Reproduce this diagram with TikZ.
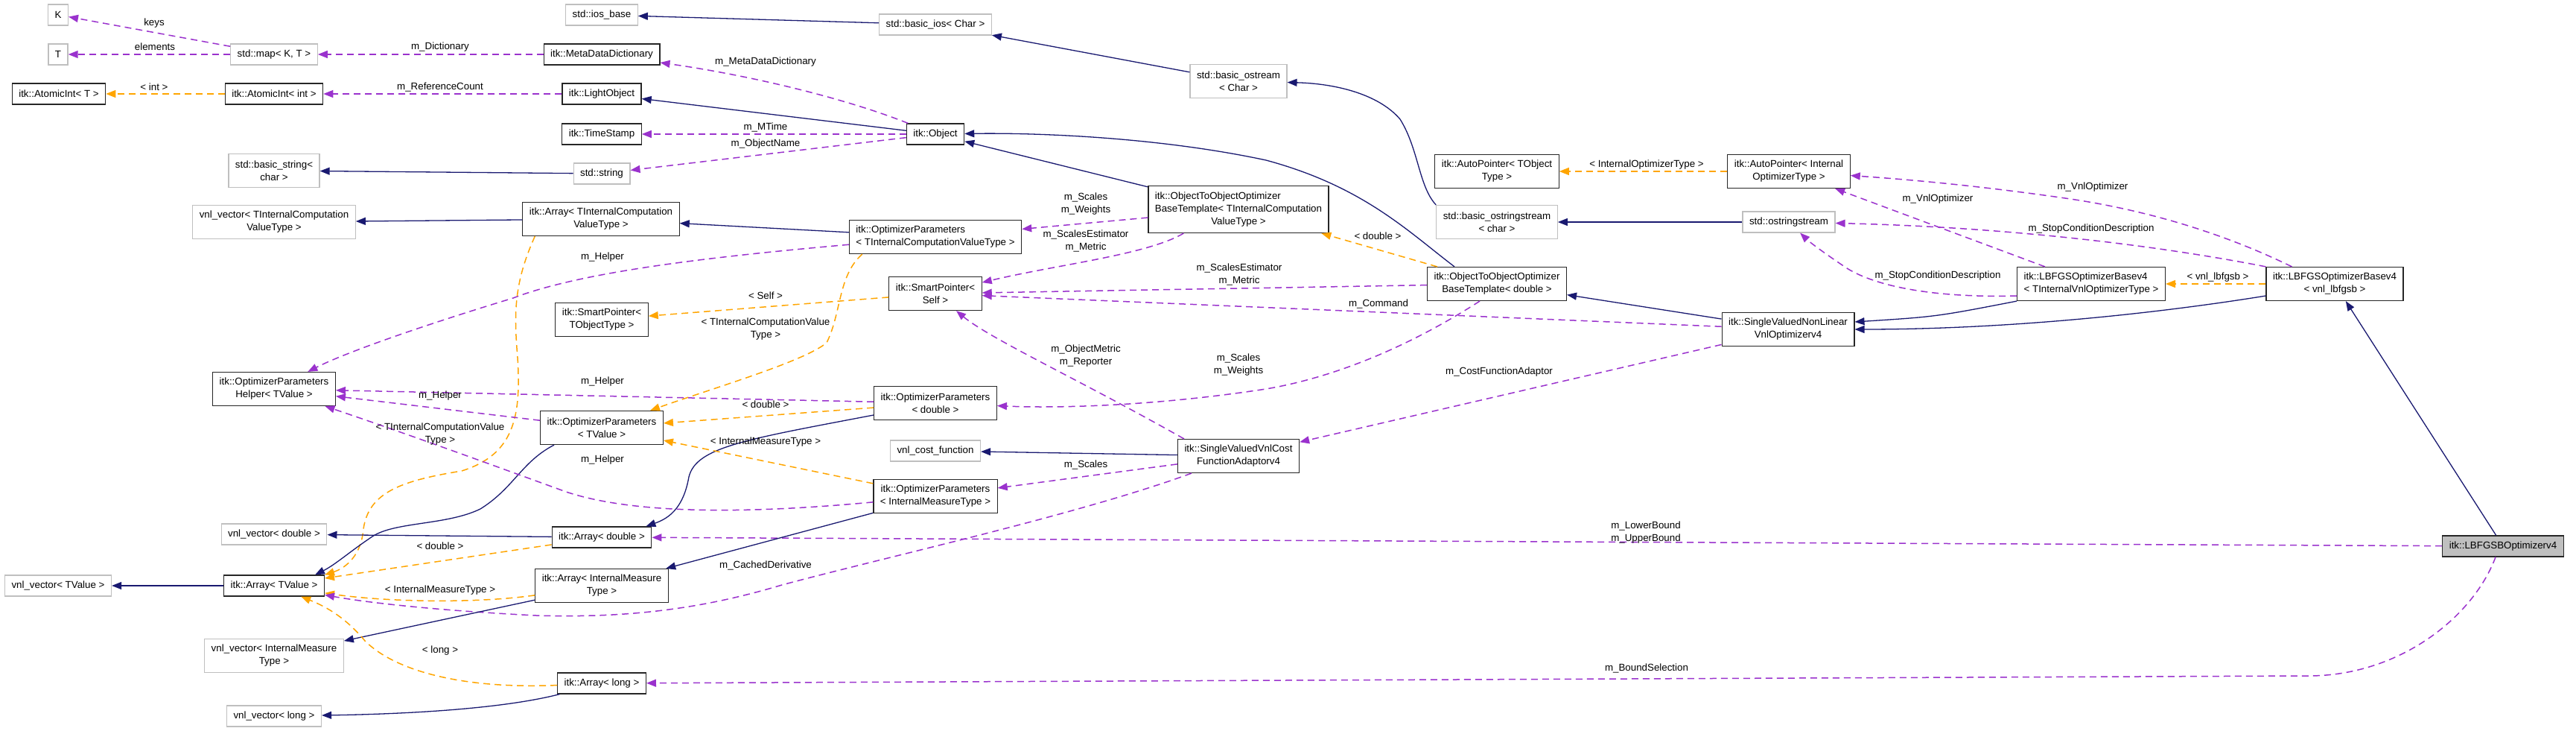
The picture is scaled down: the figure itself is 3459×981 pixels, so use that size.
\documentclass[tikz,border=0pt]{standalone}
\usepackage{fontspec}
\setmainfont{Liberation Sans}
\usetikzlibrary{arrows.meta}
\definecolor{edgeblue}{HTML}{191970}
\definecolor{edgepurple}{HTML}{9A32CD}
\definecolor{edgeorange}{HTML}{FFA500}
\definecolor{boxgrey}{HTML}{BFBFBF}
\tikzset{
  cls/.style={draw=black!85, line width=1.2pt, inner xsep=9pt, inner ysep=2pt, minimum height=28pt, align=center, font=\fontsize{13.33}{17}\selectfont},
  ext/.style={cls, draw=boxgrey},
  two/.style={minimum height=45pt},
  three/.style={minimum height=63pt},
  lbl/.style={inner sep=0pt, align=center, font=\fontsize{13.33}{17}\selectfont},
  inh/.style={draw=edgeblue, line width=1.3pt, -{Triangle[length=13pt,width=10pt]}},
  mem/.style={draw=edgepurple, line width=1.5pt, dash pattern=on 9pt off 6pt, -{Triangle[length=13pt,width=10pt]}},
  tpl/.style={draw=edgeorange, line width=1.5pt, dash pattern=on 9pt off 6pt, -{Triangle[length=13pt,width=10pt]}}
}

\begin{document}
\begin{tikzpicture}[x=1pt, y=-1pt]
\useasboundingbox (0,0) rectangle (3459,981);
\node[ext] (K) at (78,20) {K};
\node[ext] (T) at (78,73) {T};
\node[cls] (atomicT) at (79,126) {itk::AtomicInt< T >};
\node[ext] (vnlTValue) at (78,786) {vnl\_vector< TValue >};
\node[ext] (map) at (368,73) {std::map< K, T >};
\node[cls] (atomicInt) at (368,126) {itk::AtomicInt< int >};
\node[ext, two] (basicString) at (368,229) {std::basic\_string<\\char >};
\node[ext, two] (vnlTIC) at (368,298) {vnl\_vector< TInternalComputation\\ValueType >};
\node[cls, two] (helper) at (368,522) {itk::OptimizerParameters\\Helper< TValue >};
\node[ext] (vnlDouble) at (368,717) {vnl\_vector< double >};
\node[cls] (arrTValue) at (368,786) {itk::Array< TValue >};
\node[ext, two] (vnlIMT) at (368,880) {vnl\_vector< InternalMeasure\\Type >};
\node[ext] (vnlLong) at (368,961) {vnl\_vector< long >};
\node[ext] (iosBase) at (808,20) {std::ios\_base};
\node[cls] (metaDict) at (808,73) {itk::MetaDataDictionary};
\node[cls] (lightObj) at (808,126) {itk::LightObject};
\node[cls] (timeStamp) at (808,180) {itk::TimeStamp};
\node[ext] (stdString) at (808,233) {std::string};
\node[cls, two] (arrTIC) at (807,294) {itk::Array< TInternalComputation\\ValueType >};
\node[cls, two] (spTObject) at (808,429) {itk::SmartPointer<\\TObjectType >};
\node[cls, two] (optTValue) at (808,574) {itk::OptimizerParameters\\< TValue >};
\node[cls] (arrDouble) at (808,721) {itk::Array< double >};
\node[cls, two] (arrIMT) at (808,786) {itk::Array< InternalMeasure\\Type >};
\node[cls] (arrLong) at (808,917) {itk::Array< long >};
\node[ext] (basicIos) at (1256,33) {std::basic\_ios< Char >};
\node[cls] (object) at (1256,180) {itk::Object};
\node[cls, two, align=left] (optTIC) at (1256,318) {itk::OptimizerParameters\\< TInternalComputationValueType >};
\node[cls, two] (spSelf) at (1256,394) {itk::SmartPointer<\\Self >};
\node[cls, two] (optDouble) at (1256,541) {itk::OptimizerParameters\\< double >};
\node[ext] (costFn) at (1256,605) {vnl\_cost\_function};
\node[cls, two] (optIMT) at (1256,666) {itk::OptimizerParameters\\< InternalMeasureType >};
\node[ext, two] (basicOstream) at (1663,109) {std::basic\_ostream\\< Char >};
\node[cls, three] (o2oTIC) at (1663,281) {\begin{tabular}{@{}l@{}}itk::ObjectToObjectOptimizer\\BaseTemplate< TInternalComputation\\\multicolumn{1}{@{}c@{}}{ValueType >}\end{tabular}};
\node[cls, two] (costAdaptor) at (1663,612) {itk::SingleValuedVnlCost\\FunctionAdaptorv4};
\node[cls, two] (autoTObject) at (2010,230) {itk::AutoPointer< TObject\\Type >};
\node[ext, two] (basicOss) at (2010,298) {std::basic\_ostringstream\\< char >};
\node[cls, two] (o2oDouble) at (2010,381) {itk::ObjectToObjectOptimizer\\BaseTemplate< double >};
\node[cls, two] (autoIOT) at (2402,230) {itk::AutoPointer< Internal\\OptimizerType >};
\node[ext] (oss) at (2402,298) {std::ostringstream};
\node[cls, two] (svnlvo) at (2401,442) {itk::SingleValuedNonLinear\\VnlOptimizerv4};
\node[cls, two, align=left] (lbfgsTIVOT) at (2808,381) {itk::LBFGSOptimizerBasev4\\< TInternalVnlOptimizerType >};
\node[cls, two] (lbfgsVnl) at (3135,381) {itk::LBFGSOptimizerBasev4\\< vnl\_lbfgsb >};
\node[cls, fill=boxgrey] (lbfgsb) at (3361,733) {itk::LBFGSBOptimizerv4};

\draw[mem] (map) -- (K);
\draw[mem] (map) -- (T);
\draw[tpl] (atomicInt) -- (atomicT);
\draw[mem] (metaDict) -- (map);
\draw[mem] (lightObj) -- (atomicInt);
\draw[inh] (basicIos) -- (iosBase);
\draw[inh] (basicOstream) -- (basicIos);
\draw[mem] (object) .. controls (1130,130) and (1000,100) .. (metaDict);
\draw[inh] (object) -- (lightObj);
\draw[mem] (object) -- (timeStamp);
\draw[mem] (object) -- (stdString);
\draw[inh] (stdString) -- (basicString);
\draw[inh] (arrTIC) -- (vnlTIC);
\draw[inh] (optTIC) -- (arrTIC);
\draw[mem] (optTIC) .. controls (950,345) and (780,365) .. (689,400) .. controls (590,430) and (470,470) .. (helper);
\draw[tpl] ([xshift=17pt]arrTIC.south west) .. controls (690,380) and (690,420) .. (695,480) .. controls (700,560) and (690,610) .. (620,632) .. controls (540,645) and (495,660) .. (488,710) .. controls (485,745) and (465,762) .. (arrTValue.north east);
\draw[inh] ([xshift=19pt]optTValue.south west) .. controls (700,620) and (690,655) .. (645,683) .. controls (600,705) and (530,700) .. (500,720) .. controls (470,740) and (450,758) .. ([xshift=-13pt]arrTValue.north east);
\draw[inh] (arrDouble) -- (vnlDouble);
\draw[tpl] (arrDouble) -- (arrTValue);
\draw[inh] (arrTValue) -- (vnlTValue);
\draw[tpl] (arrIMT) .. controls (640,810) and (520,808) .. (arrTValue);
\draw[mem] (costAdaptor) .. controls (1450,690) and (1200,745) .. (1050,785) .. controls (950,815) and (850,830) .. (720,826) .. controls (600,820) and (500,810) .. (arrTValue);
\draw[inh] (arrIMT) -- (vnlIMT);
\draw[tpl] (arrLong) .. controls (620,925) and (530,900) .. (490,860) .. controls (465,830) and (440,815) .. (arrTValue);
\draw[inh] (arrLong) .. controls (680,950) and (560,958) .. (vnlLong);
\draw[mem] (lbfgsb) -- (arrDouble);
\draw[mem] ([xshift=-10pt]lbfgsb.south) .. controls (3320,830) and (3220,907) .. (3100,907) -- (arrLong);
\draw[mem] (o2oTIC) -- (optTIC);
\draw[mem] ([xshift=48pt]o2oTIC.south west) .. controls (1540,342) and (1420,355) .. (spSelf);
\draw[mem] (o2oDouble) -- (spSelf);
\draw[mem] (svnlvo) -- (spSelf);
\draw[tpl] (spSelf) -- (spTObject);
\draw[mem] ([xshift=9pt]costAdaptor.north west) .. controls (1450,510) and (1330,455) .. (spSelf);
\draw[tpl] ([xshift=18pt]optTIC.south west) .. controls (1125,370) and (1130,420) .. (1110,460) .. controls (1080,485) and (960,520) .. (optTValue);
\draw[tpl] (optDouble) -- (optTValue);
\draw[mem] (optDouble) -- (helper);
\draw[inh] ([yshift=-16pt]optDouble.west) .. controls (1000,590) and (935,600) .. (925,640) .. controls (918,680) and (900,695) .. ([xshift=-8pt]arrDouble.north east);
\draw[mem] (optTValue) -- (helper);
\draw[mem] (optIMT) .. controls (1000,690) and (850,690) .. (760,660) .. controls (650,620) and (540,580) .. (helper);
\draw[tpl] (optIMT) -- (optTValue);
\draw[inh] (optIMT) -- (arrIMT);
\draw[inh] (costAdaptor) -- (costFn);
\draw[mem] (costAdaptor) -- (optIMT);
\draw[mem] ([xshift=-23pt]o2oDouble.south) .. controls (1900,460) and (1800,505) .. (1700,522) .. controls (1550,545) and (1420,548) .. (optDouble);
\draw[inh] (basicOss.north west) .. controls (1905,250) and (1905,200) .. (1880,160) .. controls (1850,125) and (1790,112) .. (basicOstream);
\draw[inh] (o2oTIC) -- (object);
\draw[inh] ([xshift=-57pt]o2oDouble.north) .. controls (1890,310) and (1830,250) .. (1700,215) .. controls (1560,185) and (1400,178) .. (object);
\draw[tpl] (autoIOT) -- (autoTObject);
\draw[inh] (oss) -- (basicOss);
\draw[tpl] (o2oDouble) -- (o2oTIC);
\draw[inh] (svnlvo) -- (o2oDouble);
\draw[mem] (svnlvo) -- (costAdaptor);
\draw[inh] (lbfgsTIVOT.south west) .. controls (2600,425) .. ([yshift=10pt]svnlvo.east);
\draw[inh] ([yshift=-16pt]lbfgsVnl.west) .. controls (2900,420) and (2700,442) .. (svnlvo.east);
\draw[tpl] (lbfgsVnl) -- (lbfgsTIVOT);
\draw[inh] (lbfgsb) -- (lbfgsVnl);
\draw[mem] ([xshift=35pt]lbfgsVnl.north west) .. controls (3000,320) and (2900,285) .. (2780,267) .. controls (2650,248) and (2550,240) .. (autoIOT);
\draw[mem] (lbfgsTIVOT) -- (autoIOT);
\draw[mem] (lbfgsVnl.north west) .. controls (2900,330) and (2700,305) .. (oss);
\draw[mem] ([yshift=-16pt]lbfgsTIVOT.west) .. controls (2600,400) and (2520,385) .. (2480,360) .. controls (2450,340) and (2430,325) .. (oss);

\node[lbl] (lKeys) at (207,31) {keys};
\node[lbl] (lElements) at (208,63) {elements};
\node[lbl] (lInt) at (207,117) {< int >};
\node[lbl] (lDictionary) at (591,63) {m\_Dictionary};
\node[lbl] (lRefCount) at (591,117) {m\_ReferenceCount};
\node[lbl] (lMetaDict) at (1028,83) {m\_MetaDataDictionary};
\node[lbl] (lMTime) at (1028,171) {m\_MTime};
\node[lbl] (lObjName) at (1028,193) {m\_ObjectName};
\node[lbl] (lHelperA) at (809,345) {m\_Helper};
\node[lbl] (lScalesA) at (1458,274) {m\_Scales\\m\_Weights};
\node[lbl] (lEstimA) at (1458,323) {m\_ScalesEstimator\\m\_Metric};
\node[lbl] (lEstimB) at (1664,368) {m\_ScalesEstimator\\m\_Metric};
\node[lbl] (lSelf) at (1028,397) {< Self >};
\node[lbl] (lTicA) at (1028,442) {< TInternalComputationValue\\Type >};
\node[lbl] (lReporter) at (1458,478) {m\_ObjectMetric\\m\_Reporter};
\node[lbl] (lScalesB) at (1663,490) {m\_Scales\\m\_Weights};
\node[lbl] (lHelperB) at (809,512) {m\_Helper};
\node[lbl] (lHelperC) at (591,531) {m\_Helper};
\node[lbl] (lTicB) at (591,583) {< TInternalComputationValue\\Type >};
\node[lbl] (lHelperD) at (809,617) {m\_Helper};
\node[lbl] (lDoubleA) at (1028,543) {< double >};
\node[lbl] (lImtA) at (1028,593) {< InternalMeasureType >};
\node[lbl] (lScalesC) at (1458,624) {m\_Scales};
\node[lbl] (lDoubleB) at (591,733) {< double >};
\node[lbl] (lCached) at (1028,759) {m\_CachedDerivative};
\node[lbl] (lImtB) at (591,792) {< InternalMeasureType >};
\node[lbl] (lLong) at (591,873) {< long >};
\node[lbl] (lBounds) at (2210,715) {m\_LowerBound\\m\_UpperBound};
\node[lbl] (lBoundSel) at (2211,897) {m\_BoundSelection};
\node[lbl] (lCostFn) at (2013,499) {m\_CostFunctionAdaptor};
\node[lbl] (lCommand) at (1851,408) {m\_Command};
\node[lbl] (lDoubleC) at (1850,317) {< double >};
\node[lbl] (lIot) at (2211,221) {< InternalOptimizerType >};
\node[lbl] (lVnlA) at (2810,251) {m\_VnlOptimizer};
\node[lbl] (lVnlB) at (2602,267) {m\_VnlOptimizer};
\node[lbl] (lStopA) at (2808,307) {m\_StopConditionDescription};
\node[lbl] (lStopB) at (2602,370) {m\_StopConditionDescription};
\node[lbl] (lLbfgsb) at (2978,372) {< vnl\_lbfgsb >};
\end{tikzpicture}
\end{document}
